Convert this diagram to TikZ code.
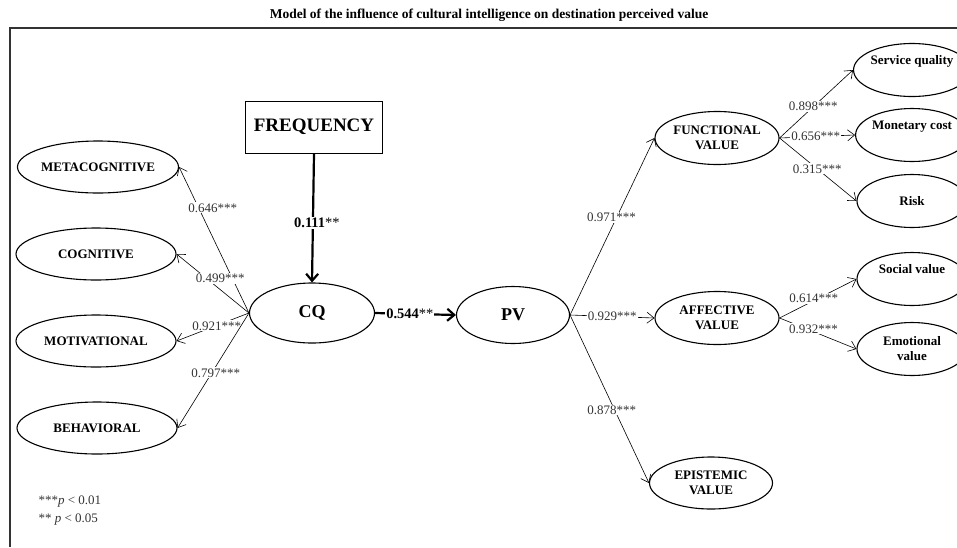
\documentclass[tikz,border=0pt]{standalone}
\usepackage{fontspec}
\setmainfont{Liberation Serif}
\usetikzlibrary{shapes.geometric, arrows.meta, positioning}
\definecolor{inkgray}{HTML}{333333}

\tikzset{
  construct/.style={ellipse, draw, line width=1.1pt, inner sep=0pt, minimum width=160pt, minimum height=52pt, align=center, font=\fontsize{13}{15}\selectfont\bfseries},
  indicator/.style={construct, minimum width=110pt, minimum height=53pt},
  core/.style={construct, font=\fontsize{18}{20}\selectfont\bfseries},
  coef/.style={fill=white, inner sep=1pt, text=inkgray, font=\fontsize{13}{15}\selectfont},
  link/.style={-{Straight Barb[length=7pt,width=11pt]}, line width=0.6pt},
  mainlink/.style={-{Straight Barb[length=7pt,width=12pt]}, line width=2.2pt}
}

\begin{document}
\begin{tikzpicture}[x=1pt, y=-1pt]
\useasboundingbox (0,0) rectangle (957,547);
\clip (0,0) rectangle (957,547);

% title and frame
\node[font=\fontsize{13.5}{15}\selectfont\bfseries] (title) at (489,15) {Model of the influence of cultural intelligence on destination perceived value};
\draw[line width=1.2pt, inkgray] (10,547) |- (957,28);

% cultural intelligence side
\node[construct] (meta) at (98,167) {METACOGNITIVE};
\node[construct] (cog) at (96,254) {COGNITIVE};
\node[construct] (mot) at (96,341) {MOTIVATIONAL};
\node[construct] (beh) at (97,428) {BEHAVIORAL};
\node[core, minimum width=125pt, minimum height=60pt] (cq) at (312,313) {CQ};
\node[rectangle, draw, line width=1pt, minimum width=137pt, minimum height=52pt, font=\fontsize{19}{21}\selectfont\bfseries] (freq) at (314,127) {FREQUENCY};

% perceived value side
\node[core, minimum width=113pt, minimum height=57pt] (pv) at (513,315) {PV};
\node[construct, minimum width=124pt, minimum height=53pt] (func) at (717,138) {FUNCTIONAL\\VALUE};
\node[construct, minimum width=124pt, minimum height=53pt] (aff) at (717,318) {AFFECTIVE\\VALUE};
\node[construct, minimum width=123pt, minimum height=52pt] (epi) at (711,483) {EPISTEMIC\\VALUE};
\node[indicator] (serv) at (912,70) {Service quality\\\strut};
\node[indicator] (money) at (912,135) {Monetary cost\\\strut};
\node[indicator] (risk) at (912,201) {Risk};
\node[indicator] (social) at (912,279) {Social value\\\strut};
\node[indicator] (emo) at (912,349) {Emotional\\value};

% loadings of CQ
\draw[link] (cq.west) -- node[coef, pos=0.72, xshift=14pt] (l1) {0.646***} (meta.east);
\draw[link] (cq.west) -- node[coef, pos=0.59, xshift=14pt] (l2) {0.499***} (cog.east);
\draw[link] (cq.west) -- node[coef, pos=0.46, xshift=1pt] (l3) {0.921***} (mot.east);
\draw[link] (cq.west) -- node[coef, pos=0.52, xshift=4pt] (l4) {0.797***} (beh.east);

% structural paths
\draw[mainlink] (freq.south) -- node[coef, pos=0.54, xshift=4pt, text=black] (l5) {\fontsize{14.5}{16}\selectfont\textbf{0.111}**} (cq.north);
\draw[mainlink] (cq.east) -- node[coef, pos=0.43, text=black] (l6) {\fontsize{14.5}{16}\selectfont\textbf{0.544}**} (pv.west);

% loadings of PV
\draw[link] (pv.east) -- node[coef, pos=0.55, xshift=-5pt] (l7) {0.971***} (func.west);
\draw[link] (pv.east) -- node[coef, pos=0.5] (l8) {0.929***} (aff.west);
\draw[link] (pv.east) -- node[coef, pos=0.565, xshift=-3pt] (l9) {0.878***} (epi.west);
\draw[link] (func.east) -- node[coef, pos=0.46] (l10) {0.898***} (serv.west);
\draw[link] (func.east) -- node[coef, pos=0.48] (l11) {0.656***} (money.west);
\draw[link] (func.east) -- node[coef, pos=0.49] (l12) {0.315***} (risk.west);
\draw[link] (aff.east) -- node[coef, pos=0.51, xshift=-5pt] (l13) {0.614***} (social.west);
\draw[link] (aff.east) -- node[coef, pos=0.35, xshift=7pt] (l14) {0.932***} (emo.west);

% significance
\node[anchor=west, text=inkgray, font=\fontsize{13}{15}\selectfont] (sig1) at (35,502) {***\textit{p} < 0.01};
\node[anchor=west, text=inkgray, font=\fontsize{13}{15}\selectfont] (sig2) at (35,520) {** \textit{p} < 0.05};
\end{tikzpicture}
\end{document}
